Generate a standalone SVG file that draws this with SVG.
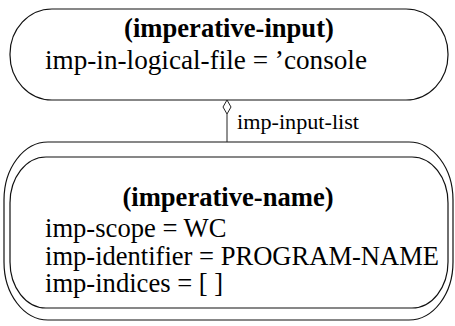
<svg xmlns="http://www.w3.org/2000/svg" width="455" height="326" viewBox="0 0 455 326">
<style>
.box{fill:none;stroke:#111;stroke-width:1.2}
.t{font-family:"Liberation Serif",serif;font-size:26.6px;fill:#000}
.b{font-weight:bold;text-anchor:middle}
.lbl{font-family:"Liberation Serif",serif;font-size:20px;fill:#000}
.edge{fill:none;stroke:#222;stroke-width:1}
</style>
<rect width="455" height="326" fill="#fff"/>
<g id="imperative-input">
<rect class="box" x="10" y="9" width="438" height="91" rx="42" ry="45"/>
<text class="t b" x="229" y="37">(imperative-input)</text>
<text class="t" x="45" y="69" textLength="322" lengthAdjust="spacingAndGlyphs">imp-in-logical-file = ’console</text>
</g>
<g id="imperative-name">
<rect class="box" x="4" y="142" width="449" height="178" rx="44" ry="58"/>
<rect class="box" x="10" y="157" width="438" height="151" rx="36" ry="46"/>
<text class="t b" x="228" y="206">(imperative-name)</text>
<text class="t" x="45" y="237">imp-scope = WC</text>
<text class="t" x="45" y="265" textLength="394" lengthAdjust="spacingAndGlyphs">imp-identifier = PROGRAM-NAME</text>
<text class="t" x="45" y="292">imp-indices = [ ]</text>
</g>
<g id="connectors">
<path class="edge" d="M227 114 V142"/>
<path class="edge" d="M227 100 L231 107 L227 114 L223 107 Z" fill="#fff"/>
<text class="lbl" x="237" y="129" textLength="122" lengthAdjust="spacingAndGlyphs">imp-input-list</text>
</g>
</svg>
